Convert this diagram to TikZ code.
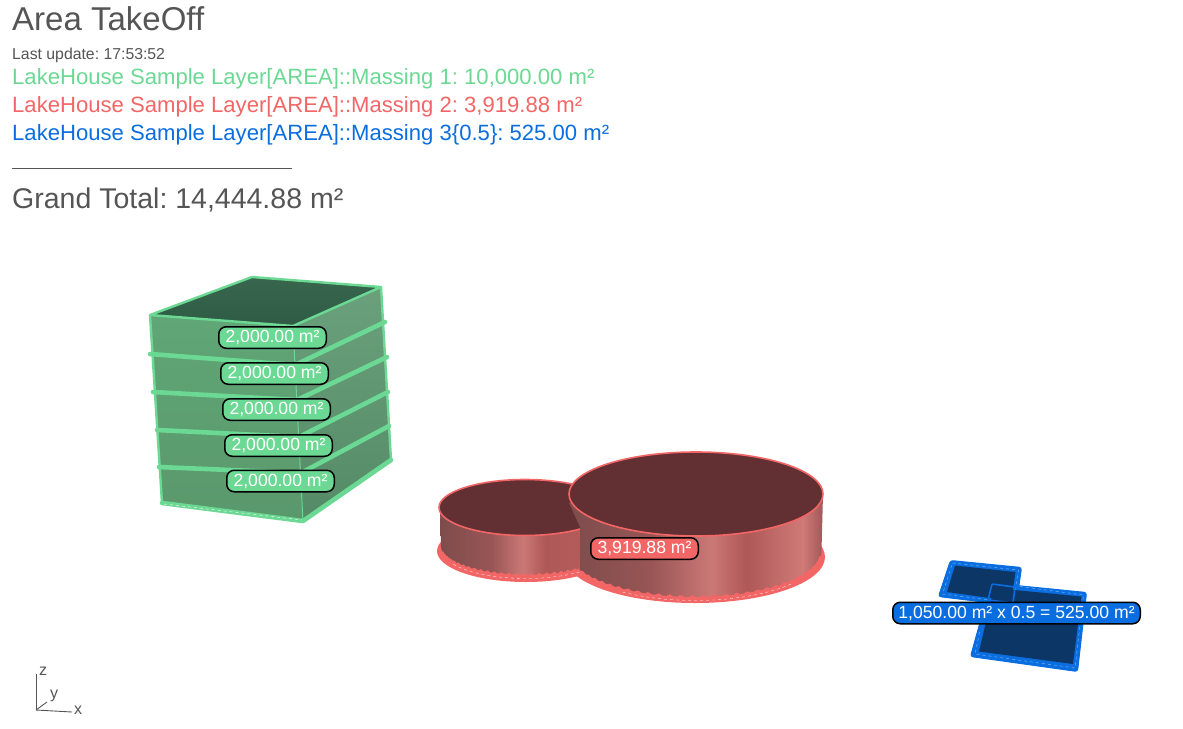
\documentclass[tikz,border=0pt]{standalone}
\usepackage{fontspec}
\setmainfont{Liberation Sans}
\definecolor{ggreen}{HTML}{6BD993}
\definecolor{gred}{HTML}{F26666}
\definecolor{gblue}{HTML}{0A6EE0}
\definecolor{gdark}{HTML}{0C3666}
\definecolor{ink}{HTML}{555555}
\definecolor{rtop}{HTML}{622F32}
\definecolor{wa}{HTML}{7E4C4C}
\definecolor{wb}{HTML}{985555}
\definecolor{wc}{HTML}{CB7876}
\definecolor{wd}{HTML}{AE5858}
\definecolor{we}{HTML}{B55E5C}
\definecolor{wf}{HTML}{D07A78}
\definecolor{wg}{HTML}{A05858}
\definecolor{topa}{HTML}{37664D}
\definecolor{topb}{HTML}{2F5B44}
\definecolor{lefta}{HTML}{60A676}
\definecolor{leftb}{HTML}{5A986C}
\definecolor{righta}{HTML}{6AA07C}
\definecolor{rightb}{HTML}{548A66}
\pgfdeclarehorizontalshading{leftwall}{100bp}{
 color(0bp)=(wa); color(25bp)=(wa); color(41bp)=(wb); color(51bp)=(wc);
 color(58bp)=(wd); color(75bp)=(we); color(100bp)=(we)}
\pgfdeclarehorizontalshading{rightwall}{100bp}{
 color(0bp)=(wa); color(25bp)=(wa); color(41bp)=(wb); color(53bp)=(wc);
 color(60bp)=(wd); color(71bp)=(wf); color(75bp)=(wg); color(100bp)=(wg)}
\tikzset{
 txt/.style={anchor=base west,inner sep=0pt,text=#1},
 tag/.style={draw=black,line width=1.5pt,rounded corners=7.5pt,text=white,inner sep=0pt,minimum height=21.5pt,font=\fontsize{17.6}{19}\selectfont},
 greentag/.style={tag,fill=ggreen,minimum width=107.5pt},
 ring/.style={ggreen,line width=4.6pt,line cap=round,line join=round},
 edgeline/.style={ggreen,line width=2.4pt,line join=round},
 axisline/.style={ink,line width=0.9pt},
 axislabel/.style={inner sep=0pt,text=ink,font=\fontsize{16}{18}\selectfont},
 slabouter/.style={fill=gblue,draw=gblue,line width=1pt,line join=round,rounded corners=2.5pt},
 slabstripe/.style={draw=gblue!55!white,line width=0.5pt,dashed}
}
\frenchspacing
\begin{document}
\begin{tikzpicture}[x=1pt,y=-1pt]
\useasboundingbox (0,0) rectangle (1183,728);
% heading
\node[txt=ink] (title) at (12,30) {\fontsize{33}{35}\selectfont Area TakeOff};
\node[txt=ink] (update) at (12,59) {\fontsize{15.8}{17}\selectfont Last update: 17:53:52};
\node[txt=ggreen] (l1) at (12,84) {\fontsize{22.1}{24}\selectfont LakeHouse Sample Layer[AREA]::Massing 1: 10,000.00 m²};
\node[txt=gred] (l2) at (12,112) {\fontsize{22.1}{24}\selectfont LakeHouse Sample Layer[AREA]::Massing 2: 3,919.88 m²};
\node[txt=gblue] (l3) at (12,140) {\fontsize{22.1}{24}\selectfont LakeHouse Sample Layer[AREA]::Massing 3\{0.5\}: 525.00 m²};
\draw[ink,line width=0.9pt] (12,168) -- (292,168);
\node[txt=ink] (total) at (12,208) {\fontsize{28.5}{31}\selectfont Grand Total: 14,444.88 m²};
% green block
\fill[top color=topa,bottom color=topb] (150,315) -- (252,277) -- (381,287) -- (293,326) -- cycle;
\fill[top color=lefta,bottom color=leftb] (150,315) -- (293,326) -- (303,522) -- (162,503) -- cycle;
\fill[top color=righta,bottom color=rightb] (293,326) -- (381,287) -- (391,460) -- (303,522) -- cycle;
\draw[edgeline] (150,315) -- (252,277) -- (381,287) -- (293,326) -- cycle;
\draw[edgeline,line width=1pt] (293,326) -- (303,522);
\draw[edgeline] (381,287) -- (391,460);
\draw[edgeline] (150,315) -- (162,503);
\draw[ring] (150,354) -- (295,365) -- (385,322);
\draw[ring] (153,392) -- (297,400) -- (387,357);
\draw[ring] (157,430) -- (299,437) -- (388,392);
\draw[ring] (159,467) -- (301,473) -- (389,426);
\draw[ring] (162,503) -- (303,521) -- (391,460);
\draw[white,line width=0.4pt,dashed] (164,504) -- (302,520);
% red bases
\fill[gred] (695,557) ellipse [x radius=130, y radius=46];
\fill[gred] (526,551) ellipse [x radius=89, y radius=31];
% red left cylinder
\shade[shading=leftwall] (440,508) -- (441,546) -- plot[domain=180:30,samples=60] ({526+85*cos(\x)},{546+29*sin(\x)}) -- (580,507) -- cycle;
\draw[gred,line width=2pt] plot[domain=170:30,samples=130] ({526+85*cos(\x)},{547+(29+1.6*sin(70*\x))*sin(\x)});
\draw[white,line width=0.3pt,dashed] plot[domain=150:50,samples=40] ({526+84*cos(\x)},{550+28.5*sin(\x)});
\filldraw[fill=rtop,draw=gred,line width=1.6pt] (525,507.5) ellipse [x radius=86, y radius=28];
% red right cylinder
\shade[shading=rightwall] (569,503) -- (580,527) -- (580,567) -- plot[domain=156:0,samples=80] ({695+126.5*cos(\x)},{551+46*sin(\x)}) -- (823,494) -- (696,470) -- cycle;
\draw[gred,line width=2pt] plot[domain=156:5,samples=170] ({695+126*cos(\x)},{552+(46+1.6*sin(70*\x))*sin(\x)});
\draw[white,line width=0.3pt,dashed] plot[domain=125:40,samples=40] ({695+126*cos(\x)},{554+46.5*sin(\x)});
\filldraw[fill=rtop,draw=gred,line width=1.6pt] (696,494) ellipse [x radius=127, y radius=42];
% blue slabs
\filldraw[slabouter] (950.5,560.5) -- (1021.5,567.5) -- (1016,606) -- (938.5,596.5) -- cycle;
\filldraw[slabouter] (991,583) -- (1086.5,592.5) -- (1077.5,671.5) -- (970.5,656.5) -- cycle;
\draw[slabstripe] (952.5,563) -- (1018.5,570) -- (1013,603) -- (942.5,594) -- cycle;
\draw[slabstripe] (1020,586.5) -- (1083.5,595) -- (1075,668) -- (975,654) -- (980,630);
\fill[gdark] (955,565.5) -- (1015.5,572) -- (1011,601) -- (947,592) -- cycle;
\fill[gdark] (994,588) -- (1081.5,596.5) -- (1073,664) -- (979,651.5) -- cycle;
\draw[gblue,line width=1.6pt,rounded corners=1pt] (992,584) -- (1015,587) -- (1013,603) -- (988,600) -- cycle;
% tags
\node[greentag] (t1) at (272.5,337.5) {2,000.00 m²};
\node[greentag] (t2) at (274.5,373.5) {2,000.00 m²};
\node[greentag] (t3) at (276.5,409.5) {2,000.00 m²};
\node[greentag] (t4) at (278.5,445.5) {2,000.00 m²};
\node[greentag] (t5) at (280.5,481) {2,000.00 m²};
\node[tag,fill=gred,minimum width=107.5pt] (t6) at (644.5,548.5) {3,919.88 m²};
\node[tag,fill=gblue,minimum width=247.5pt] (t7) at (1016.5,613) {1,050.00 m² x 0.5 = 525.00 m²};
% axes
\coordinate (o) at (36,710);
\coordinate (zend) at (36,674);
\coordinate (xend) at (72,712);
\coordinate (yend) at (47,702);
\draw[axisline] (o) -- (zend);
\draw[axisline] (o) -- (xend);
\draw[axisline] (o) -- (yend);
\node[axislabel] (zl) at (43,671) {z};
\node[axislabel] (yl) at (54,696) {y};
\node[axislabel] (xl) at (78,710) {x};
\end{tikzpicture}
\end{document}
